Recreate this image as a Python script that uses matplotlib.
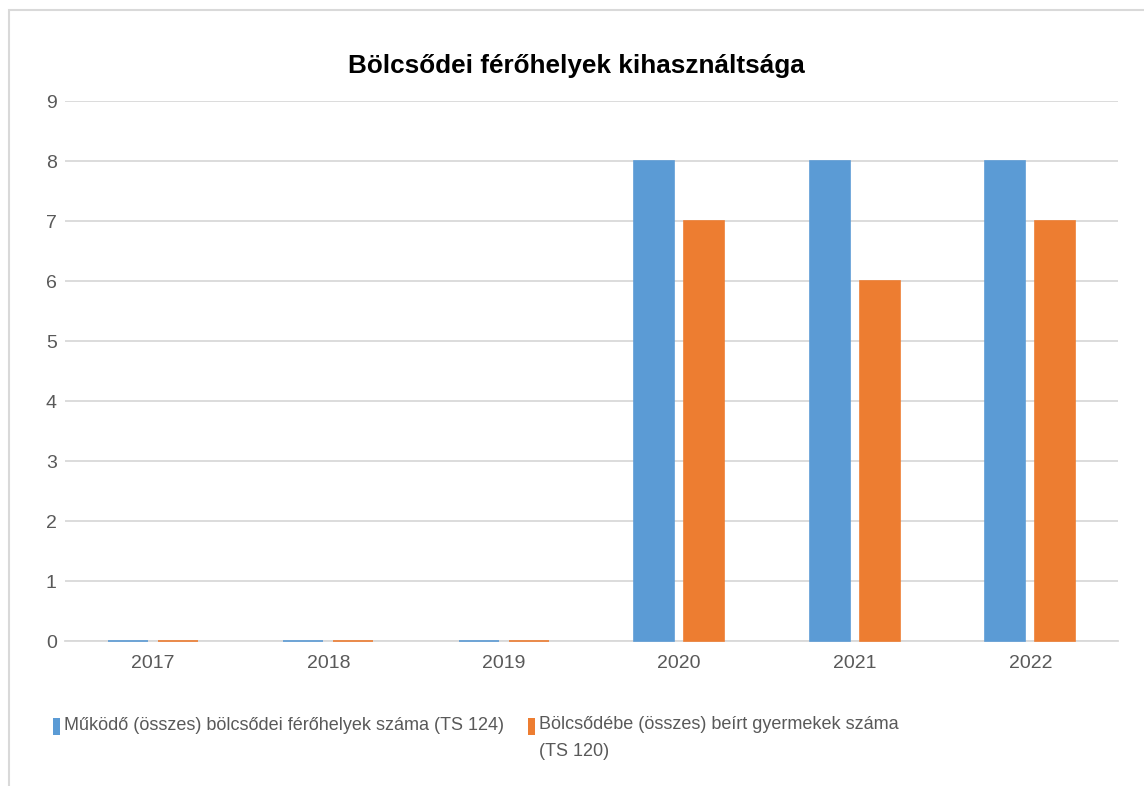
import matplotlib
matplotlib.use("Agg")
import matplotlib.pyplot as plt
from matplotlib.patches import Rectangle
import numpy as np

years = ["2017", "2018", "2019", "2020", "2021", "2022"]
places = [0, 0, 0, 8, 8, 8]
enrolled = [0, 0, 0, 7, 6, 7]
series_names = ["Működő (összes) bölcsődei férőhelyek száma (TS 124)",
                "Bölcsődébe (összes) beírt gyermekek száma\n(TS 120)"]
title = "Bölcsődei férőhelyek kihasználtsága"

BLUE = "#5B9BD5"
ORANGE = "#ED7D31"
GRID = "#D9D9D9"
TXT = "#595959"
FONT = ["Liberation Sans", "DejaVu Sans"]

plt.rcParams['font.family'] = FONT

W, H = 1144, 786
fig = plt.figure(figsize=(W/100, H/100), dpi=100)
ax = fig.add_axes([65/W, 1-641/H, (1118-65)/W, (641-101)/H])

x = np.arange(len(years))
w = 0.228
gap = 0.057
ax.bar(x - (w+gap)/2, places, w, color=BLUE, edgecolor=BLUE, linewidth=1.2, zorder=3, clip_on=False)
ax.bar(x + (w+gap)/2, enrolled, w, color=ORANGE, edgecolor=ORANGE, linewidth=1.2, zorder=3, clip_on=False)

ax.set_xlim(-0.5, len(years)-0.5)
ax.set_ylim(0, 9)
ax.set_yticks(range(0, 10))
ax.set_xticks(x)
ax.set_xticklabels(years)
ax.yaxis.grid(True, color=GRID, linewidth=1.3)
ax.set_axisbelow(True)
for s in ["top", "right", "left"]:
    ax.spines[s].set_visible(False)
ax.spines["bottom"].set_color(GRID)
ax.spines["bottom"].set_linewidth(1.3)
ax.spines["bottom"].set_zorder(1)
ax.tick_params(axis="both", length=0, colors=TXT, labelsize=14)
ax.tick_params(axis="y", pad=6)
ax.tick_params(axis="x", pad=10)

fig.text(576/W, 1-66/H, title, ha="center", va="center", fontsize=18.8,
         fontweight="bold", color="black")

# legend (manual layout to mimic wrapped second entry)
leg_fs = 13
fig.patches.append(Rectangle((53/W, 1-735/H), 7/W, 17/H, transform=fig.transFigure,
                             facecolor=BLUE, edgecolor="none"))
fig.text(64/W, 1-726/H, series_names[0], ha="left", va="center", fontsize=leg_fs, color=TXT)
ox = 528
fig.patches.append(Rectangle((ox/W, 1-735/H), 7/W, 17/H, transform=fig.transFigure,
                             facecolor=ORANGE, edgecolor="none"))
fig.text((ox+11)/W, 1-716/H, series_names[1], ha="left", va="top", fontsize=leg_fs,
         color=TXT, linespacing=1.75)

fig.patches.append(Rectangle((9/W, -0.1), 1.2, 1-10/H+0.1, transform=fig.transFigure,
                             fill=False, edgecolor=GRID, linewidth=1.5))

fig.savefig("out.png", dpi=100)
